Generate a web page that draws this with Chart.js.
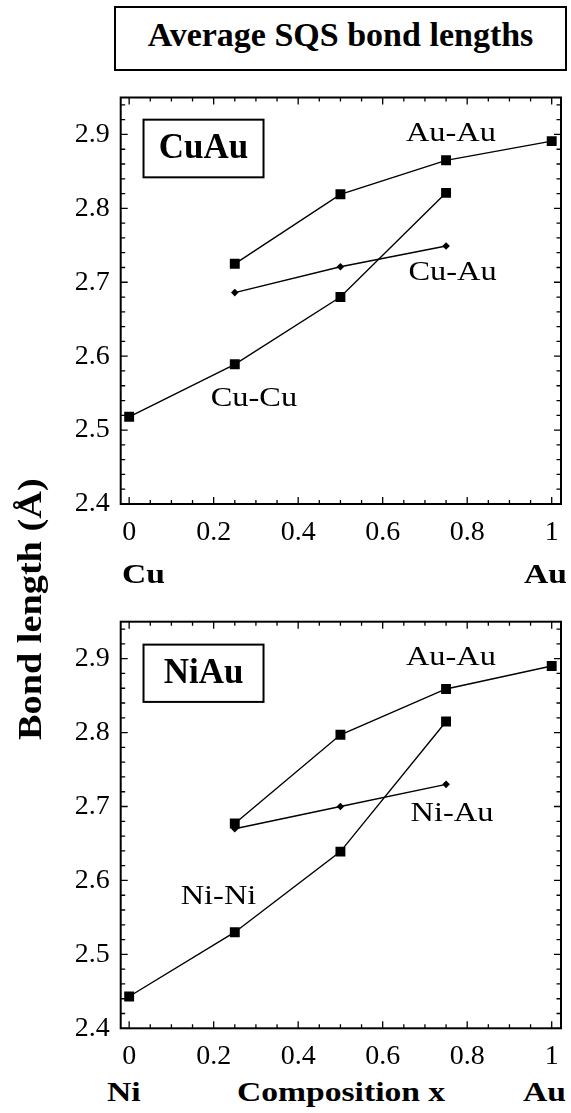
<!DOCTYPE html>
<html><head><meta charset="utf-8">
<script src="https://cdn.jsdelivr.net/npm/chart.js@4.4.1/dist/chart.umd.min.js"></script>
<style>
html,body{margin:0;padding:0;background:#fff;}
body{width:571px;height:1113px;position:relative;overflow:hidden;font-family:"Liberation Serif","Times New Roman",serif;color:#000;}
canvas{position:absolute;left:0;}
#c1{top:80px;}
#c2{top:600px;}
#title{position:absolute;left:114px;top:6px;width:449px;height:61px;border:2px solid #000;font-weight:bold;font-size:34px;line-height:54px;text-align:center;white-space:nowrap;}
.lab{position:absolute;font-weight:bold;font-size:28px;line-height:28px;white-space:nowrap;transform-origin:0 0;transform:scaleX(1.2);}
#ylab{position:absolute;left:14px;top:740px;font-weight:bold;font-size:33px;line-height:33px;white-space:nowrap;transform-origin:0 0;transform:rotate(-90deg) scaleX(1.16);}
</style>
</head><body>
<canvas id="c1" width="571" height="480"></canvas>
<canvas id="c2" width="571" height="470"></canvas>
<div id="title">Average SQS bond lengths</div>
<div id="ylab">Bond length (Å)</div>
<div class="lab" style="left:121.7px;top:559.5px;">Cu</div>
<div class="lab" style="left:524px;top:559.5px;">Au</div>
<div class="lab" style="left:106.7px;top:1078.3px;">Ni</div>
<div class="lab" style="left:236.7px;top:1078.3px;">Composition x</div>
<div class="lab" style="left:523px;top:1078.3px;">Au</div>
<script>
// ---- data ----
const xTickVals = [0, 0.2, 0.4, 0.6, 0.8, 1];
const xTickLabels = ['0', '0.2', '0.4', '0.6', '0.8', '1'];
const yTickVals = [2.4, 2.5, 2.6, 2.7, 2.8, 2.9];
const yTickLabels = ['2.4', '2.5', '2.6', '2.7', '2.8', '2.9'];

// CuAu panel
const cuAu_AuAu_x = [0.25, 0.5, 0.75, 1];
const cuAu_AuAu_y = [2.725, 2.819, 2.865, 2.891];
const cuAu_CuCu_x = [0, 0.25, 0.5, 0.75];
const cuAu_CuCu_y = [2.518, 2.589, 2.680, 2.821];
const cuAu_CuAu_x = [0.25, 0.5, 0.75];
const cuAu_CuAu_y = [2.686, 2.721, 2.749];

// NiAu panel
const niAu_AuAu_x = [0.25, 0.5, 0.75, 1];
const niAu_AuAu_y = [2.677, 2.797, 2.859, 2.890];
const niAu_NiNi_x = [0, 0.25, 0.5, 0.75];
const niAu_NiNi_y = [2.443, 2.530, 2.639, 2.815];
const niAu_NiAu_x = [0.25, 0.5, 0.75];
const niAu_NiAu_y = [2.670, 2.700, 2.730];

const cuAuNames = ['Au-Au', 'Cu-Cu', 'Cu-Au'];
const niAuNames = ['Au-Au', 'Ni-Ni', 'Ni-Au'];

// ---- helpers ----
function pts(xs, ys) { return xs.map((x, i) => ({x: x, y: ys[i]})); }
function ds(label, xs, ys, style, r) {
  return {
    label: label, data: pts(xs, ys), showLine: true, tension: 0,
    borderColor: '#000', borderWidth: 1.4,
    pointStyle: style, pointRadius: r, pointHoverRadius: r,
    pointBackgroundColor: '#000', pointBorderColor: '#000', pointBorderWidth: 0,
    backgroundColor: '#000'
  };
}

const framePlugin = {
  id: 'frame',
  afterDatasetsDraw(chart, args, opts) {
    const ctx = chart.ctx, a = chart.chartArea;
    const xs = chart.scales.x, ys = chart.scales.y;
    ctx.save();
    ctx.strokeStyle = '#000';
    ctx.lineWidth = 1.3;
    ctx.beginPath();
    for (let i = 0; i <= 20; i++) {
      const px = xs.getPixelForValue(i * 0.05);
      const len = (i % 4 === 0) ? 7 : 4;
      ctx.moveTo(px, a.bottom); ctx.lineTo(px, a.bottom - len);
      ctx.moveTo(px, a.top); ctx.lineTo(px, a.top + len);
    }
    for (let i = 0; i <= 27; i++) {
      const py = ys.getPixelForValue(2.4 + i * 0.02);
      const len = (i % 5 === 0) ? 7 : 4.5;
      ctx.moveTo(a.left, py); ctx.lineTo(a.left + len, py);
      ctx.moveTo(a.right, py); ctx.lineTo(a.right - len, py);
    }
    ctx.stroke();
    ctx.lineWidth = 2;
    ctx.strokeRect(a.left, a.top, a.right - a.left, a.bottom - a.top);

    // panel name box
    const b = opts.box;
    const bx1 = xs.getPixelForValue(b.x1), bx2 = xs.getPixelForValue(b.x2);
    const by1 = ys.getPixelForValue(b.y1), by2 = ys.getPixelForValue(b.y2);
    ctx.lineWidth = 2;
    ctx.strokeRect(bx1, by1, bx2 - bx1, by2 - by1);
    ctx.fillStyle = '#000';
    ctx.font = 'bold 35px "Liberation Serif"';
    ctx.textAlign = 'center';
    ctx.textBaseline = 'alphabetic';
    ctx.fillText(b.text, (bx1 + bx2) / 2, ys.getPixelForValue(b.base));

    // series labels
    ctx.font = '27px "Liberation Serif"';
    ctx.textAlign = 'left';
    opts.labels.forEach(l => {
      ctx.save();
      ctx.translate(xs.getPixelForValue(l.x), ys.getPixelForValue(l.y));
      ctx.scale(1.2, 1);
      ctx.fillText(l.text, 0, 0);
      ctx.restore();
    });
    ctx.restore();
  }
};

function makeChart(id, datasets, topPad, xAxisH, box, labels) {
  return new Chart(document.getElementById(id), {
    type: 'scatter',
    data: {datasets: datasets},
    plugins: [framePlugin],
    options: {
      responsive: false, animation: false, devicePixelRatio: 1,
      layout: {padding: {left: 0, right: 10, top: topPad, bottom: 0}},
      plugins: {legend: {display: false}, tooltip: {enabled: false}, frame: {box: box, labels: labels}},
      scales: {
        x: {
          type: 'linear', min: -0.02, max: 1.022,
          afterBuildTicks: s => { s.ticks = xTickVals.map(v => ({value: v})); },
          afterFit: s => { s.height = xAxisH; s.paddingLeft = 0; s.paddingRight = 0; },
          ticks: {
            callback: (v) => xTickLabels[xTickVals.indexOf(v)],
            font: {family: '"Liberation Serif"', size: 28}, color: '#000',
            padding: 12, maxRotation: 0, autoSkip: false
          },
          grid: {display: false, drawTicks: false}, border: {display: false}
        },
        y: {
          type: 'linear', min: 2.4, max: 2.95,
          afterBuildTicks: s => { s.ticks = yTickVals.map(v => ({value: v})); },
          afterFit: s => { s.width = 120.7; s.paddingTop = 0; s.paddingBottom = 0; },
          ticks: {
            callback: (v) => yTickLabels[yTickVals.indexOf(v)],
            font: {family: '"Liberation Serif"', size: 28}, color: '#000',
            padding: 11, autoSkip: false
          },
          grid: {display: false, drawTicks: false}, border: {display: false}
        }
      }
    }
  });
}

makeChart('c1', [
  ds(cuAuNames[0], cuAu_AuAu_x, cuAu_AuAu_y, 'rect', 7),
  ds(cuAuNames[1], cuAu_CuCu_x, cuAu_CuCu_y, 'rect', 7),
  ds(cuAuNames[2], cuAu_CuAu_x, cuAu_CuAu_y, 'rectRot', 3.8)
], 17.5, 56,
  {text: 'CuAu', x1: 0.034, x2: 0.318, y1: 2.92, y2: 2.842, base: 2.8675},
  [{text: cuAuNames[0], x: 0.655, y: 2.891},
   {text: cuAuNames[2], x: 0.661, y: 2.703},
   {text: cuAuNames[1], x: 0.193, y: 2.532}]
);

makeChart('c2', [
  ds(niAuNames[0], niAu_AuAu_x, niAu_AuAu_y, 'rect', 7),
  ds(niAuNames[1], niAu_NiNi_x, niAu_NiNi_y, 'rect', 7),
  ds(niAuNames[2], niAu_NiAu_x, niAu_NiAu_y, 'rectRot', 3.8)
], 21.7, 41.7,
  {text: 'NiAu', x1: 0.034, x2: 0.318, y1: 2.919, y2: 2.8415, base: 2.867},
  [{text: niAuNames[0], x: 0.655, y: 2.891},
   {text: niAuNames[2], x: 0.666, y: 2.681},
   {text: niAuNames[1], x: 0.122, y: 2.568}]
);
</script>
</body></html>
